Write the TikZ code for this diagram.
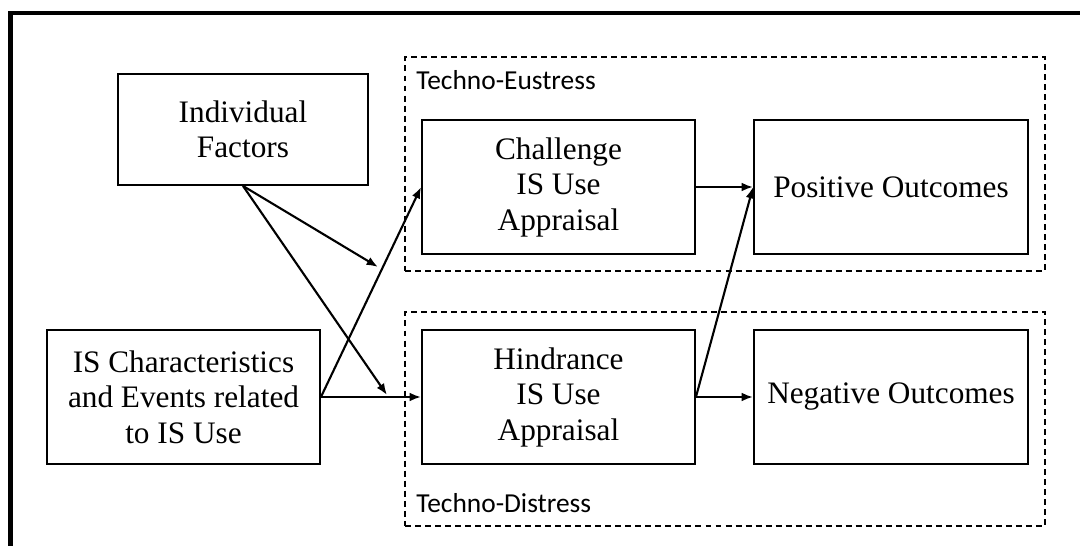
\documentclass[tikz,border=0pt]{standalone}
\usepackage{fontspec}
\setmainfont{Liberation Serif}
\newfontfamily\grouplabelfont{Carlito}
\usetikzlibrary{arrows.meta}
\begin{document}
\begin{tikzpicture}[x=0.02cm,y=-0.02cm,
    box/.style={draw,line width=1.1pt,align=center,inner sep=0pt,
      font=\fontsize{17.8}{20.2}\selectfont,
      minimum width=5.46cm,minimum height=2.68cm},
    group/.style={draw,line width=0.9pt,dash pattern=on 3.4pt off 2.3pt,
      minimum width=12.8cm,minimum height=4.28cm,inner sep=0pt},
    grouplabel/.style={anchor=west,inner sep=0pt,
      font=\grouplabelfont\fontsize{15.6}{18}\selectfont},
    >={Latex[length=6.5pt,width=5pt]}]
  \useasboundingbox (0,0) rectangle (1080,546);
  \draw[line width=2.6pt] (10.5,546) -- (10.5,13) -- (1080,13);
  \draw
    (725,164) node[group] (eu){}
    (725,419) node[group] (di){}
    (243,129.5) node[box,minimum width=5cm,minimum height=2.22cm] (if){Individual\\Factors}
    (183.5,397) node[box] (isc){IS Characteristics\\and Events related\\to IS Use}
    (558.5,187) node[box] (chal){Challenge\\IS Use\\Appraisal}
    (558.5,397) node[box] (hin){Hindrance\\IS Use\\Appraisal}
    (891,187) node[box,minimum width=5.48cm] (pos){Positive Outcomes}
    (891,397) node[box,minimum width=5.48cm] (neg){Negative Outcomes};
  \node[grouplabel] (eulab) at (416,80) {Techno-Eustress};
  \node[grouplabel] (dilab) at (416,503) {Techno-Distress};
  \coordinate (m1) at (378,267);
  \coordinate (m2) at (387,395);
  \begin{scope}[->,line width=1.2pt]
    \draw (if.south) to (m1);
    \draw (if.south) to (m2);
    \draw (isc.east) to (chal.west);
    \draw (isc.east) to (hin.west);
    \draw (chal.east) to (pos.west);
    \draw (hin.east) to (pos.west);
    \draw (hin.east) to (neg.west);
  \end{scope}
\end{tikzpicture}
\end{document}
